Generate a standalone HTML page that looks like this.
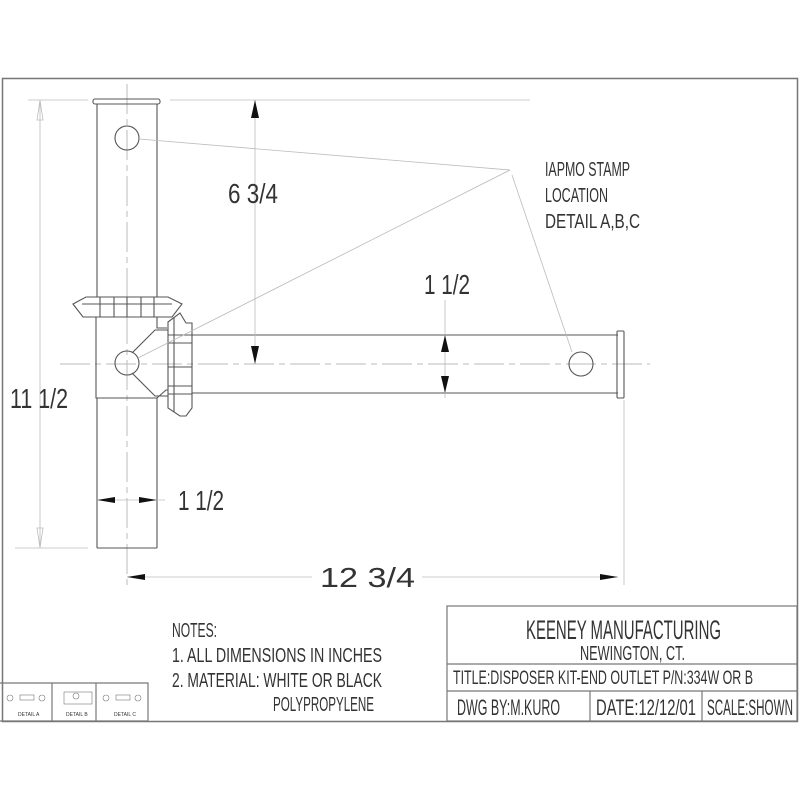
<!DOCTYPE html>
<html><head><style>body{margin:0;background:#fff}svg{display:block}text{font-family:"Liberation Sans Narrow","Liberation Sans",sans-serif;fill:#333}</style></head>
<body>
<svg width="800" height="800" viewBox="0 0 800 800" xmlns="http://www.w3.org/2000/svg">
<rect x="2.5" y="78.5" width="795" height="643" fill="none" stroke="#777" stroke-width="1.5"/>
<g stroke="#bbb" stroke-width="1" fill="none" stroke-dasharray="30,5,6,5">
<line x1="127" y1="84" x2="127" y2="585"/>
<line x1="60" y1="364" x2="650" y2="364"/>
</g>
<g stroke="#555" stroke-width="1.1" fill="none">
<rect x="93" y="99" width="67" height="5" rx="2"/>
<line x1="97" y1="104" x2="97" y2="297"/><line x1="157" y1="104" x2="157" y2="297"/>
<circle cx="127" cy="138" r="12"/>
<path d="M73,304 L86,297 L168,297 L182,304 L172,317 L83,317 Z"/>
<line x1="82" y1="304" x2="172" y2="304"/>
<line x1="100" y1="297" x2="100" y2="317"/><line x1="114" y1="297" x2="114" y2="317"/><line x1="127" y1="297" x2="127" y2="317"/><line x1="141" y1="297" x2="141" y2="317"/><line x1="154" y1="297" x2="154" y2="317"/>
<path d="M96,317 L96,398 L157,398 L166,390 L168,390"/>
<path d="M157,317 L157,328 L167,328"/>
<line x1="97" y1="398" x2="97" y2="548"/><line x1="157" y1="398" x2="157" y2="548"/><line x1="97" y1="548" x2="157" y2="548"/>
<circle cx="127" cy="363" r="12"/>
<path d="M132,353 L155,330 L168,330"/><path d="M132,373 L155,396 L168,396"/>
<path d="M168,322 L180,313 L186,323 L192,323 L192,408 L186,416 L180,416 L168,408 Z"/>
<line x1="174" y1="318" x2="174" y2="412"/>
<line x1="168" y1="335" x2="192" y2="335"/><line x1="168" y1="343" x2="192" y2="343"/><line x1="168" y1="367" x2="192" y2="367"/><line x1="168" y1="386" x2="192" y2="386"/><line x1="168" y1="394" x2="192" y2="394"/>
<line x1="192" y1="335" x2="618" y2="335"/><line x1="192" y1="393" x2="618" y2="393"/>
<rect x="617" y="331" width="7" height="67" rx="1"/>
<circle cx="581" cy="364" r="12"/>
</g>
<g stroke="#bbb" stroke-width="0.8" fill="none">
<line x1="510" y1="170" x2="139" y2="139"/>
<line x1="510" y1="170" x2="138" y2="358"/>
<line x1="512" y1="175" x2="572" y2="352"/>
<line x1="170" y1="100" x2="530" y2="100"/>
<line x1="255" y1="100" x2="255" y2="364"/>
<line x1="445" y1="300" x2="445" y2="398"/>
<line x1="28" y1="100" x2="88" y2="100"/>
<line x1="15" y1="548" x2="88" y2="548"/>
<line x1="40" y1="100" x2="40" y2="548"/>
<line x1="97" y1="500" x2="165" y2="500"/>
<line x1="127" y1="577" x2="312" y2="577"/>
<line x1="422" y1="577" x2="618" y2="577"/>
<line x1="624" y1="400" x2="624" y2="585"/>
<path d="M37,120 L40,100 L43,120 Z M37,528 L40,548 L43,528 Z"/>
</g>
<g fill="#111">
<path d="M251,118 L255,100 L259,118 Z M251,346 L255,364 L259,346 Z"/>
<path d="M441,352 L445,335 L449,352 Z M441,376 L445,393 L449,376 Z"/>
<path d="M97,500 L115,497 L115,503 Z M157,500 L139,497 L139,503 Z"/>
<path d="M127,577 L145,574 L145,580 Z M618,577 L600,574 L600,580 Z"/>
</g>
<g font-size="28">
<text x="228" y="203" textLength="50" lengthAdjust="spacingAndGlyphs">6 3/4</text>
<text x="424" y="294" textLength="46" lengthAdjust="spacingAndGlyphs">1 1/2</text>
<text x="10" y="408" textLength="58" lengthAdjust="spacingAndGlyphs">11 1/2</text>
<text x="178" y="510" textLength="46" lengthAdjust="spacingAndGlyphs">1 1/2</text>
<text x="320" y="587" textLength="95" lengthAdjust="spacingAndGlyphs">12 3/4</text>
</g>
<g font-size="20" style="fill:#999">
<text x="545" y="176" textLength="85" lengthAdjust="spacingAndGlyphs">IAPMO STAMP</text>
<text x="545" y="202" textLength="63" lengthAdjust="spacingAndGlyphs">LOCATION</text>
<text x="545" y="228" textLength="95" lengthAdjust="spacingAndGlyphs">DETAIL A,B,C</text>
</g>
<g font-size="20">
<text x="172" y="637" textLength="45" lengthAdjust="spacingAndGlyphs">NOTES:</text>
<text x="172" y="662" textLength="210" lengthAdjust="spacingAndGlyphs">1. ALL DIMENSIONS IN INCHES</text>
<text x="172" y="687" textLength="210" lengthAdjust="spacingAndGlyphs">2. MATERIAL: WHITE OR BLACK</text>
<text x="273" y="711" textLength="101" lengthAdjust="spacingAndGlyphs">POLYPROPYLENE</text>
</g>
<g stroke="#777" stroke-width="1.2" fill="none">
<rect x="447" y="606" width="350" height="115"/>
<line x1="447" y1="664" x2="797" y2="664"/>
<line x1="447" y1="691" x2="797" y2="691"/>
<line x1="590" y1="691" x2="590" y2="721"/>
<line x1="702" y1="691" x2="702" y2="721"/>
<path d="M0,683 H148 V721 H0"/><line x1="52" y1="683" x2="52" y2="721"/><line x1="96" y1="683" x2="96" y2="721"/>
</g>
<g>
<text x="526" y="639" font-size="27" textLength="195" lengthAdjust="spacingAndGlyphs">KEENEY MANUFACTURING</text>
<text x="580" y="660" font-size="20" textLength="105" lengthAdjust="spacingAndGlyphs">NEWINGTON, CT.</text>
<text x="453" y="684" font-size="19" textLength="300" lengthAdjust="spacingAndGlyphs">TITLE:DISPOSER KIT-END OUTLET  P/N:334W OR B</text>
<text x="457" y="715" font-size="22" textLength="103" lengthAdjust="spacingAndGlyphs">DWG BY:M.KURO</text>
<text x="596" y="715" font-size="22" textLength="100" lengthAdjust="spacingAndGlyphs">DATE:12/12/01</text>
<text x="707" y="715" font-size="22" textLength="86" lengthAdjust="spacingAndGlyphs">SCALE:SHOWN</text>
</g>
<g stroke="#777" stroke-width="0.6" fill="none">
<circle cx="10" cy="698" r="3"/><rect x="20" y="695" width="14" height="5"/><circle cx="42" cy="698" r="3"/>
<rect x="64" y="692" width="28" height="12"/><circle cx="76" cy="696" r="3"/>
<circle cx="106" cy="698" r="3"/><rect x="116" y="695" width="14" height="5"/><circle cx="138" cy="698" r="3"/>
</g>
<g font-size="5">
<text x="18" y="716">DETAIL A</text><text x="66" y="716">DETAIL B</text><text x="114" y="716">DETAIL C</text>
</g>
</svg>
</body></html>
